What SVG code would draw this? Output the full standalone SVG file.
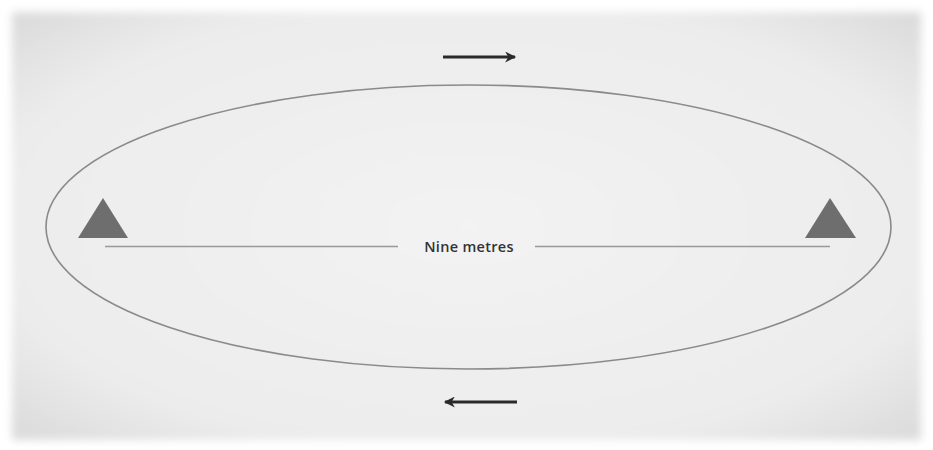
<svg xmlns="http://www.w3.org/2000/svg" width="933" height="450" viewBox="0 0 933 450">
  <defs>
    <radialGradient id="bg" cx="0.5" cy="0.5" r="0.75">
      <stop offset="0" stop-color="#f3f3f3"/>
      <stop offset="0.7" stop-color="#ececec"/>
      <stop offset="1" stop-color="#d6d6d6"/>
    </radialGradient>
    <filter id="soft" x="-5%" y="-5%" width="110%" height="110%">
      <feGaussianBlur stdDeviation="4"/>
    </filter>
    <marker id="ah" viewBox="0 0 10 10" refX="9" refY="5" markerWidth="14" markerHeight="11" markerUnits="userSpaceOnUse" orient="auto">
      <path d="M0,0 L10,5 L0,10 L3,5 Z" fill="#2a2a2a"/>
    </marker>
    <style>
      .ring { fill: none; stroke: #8a8a8a; stroke-width: 1.6; }
      .tri { fill: #6e6e6e; }
      .dist { stroke: #999; stroke-width: 1.6; }
      .arrow { stroke: #2a2a2a; stroke-width: 2.8; fill: none; marker-end: url(#ah); }
      .label { font-family: "Open Sans", "Liberation Sans", sans-serif; font-size: 14.5px; font-weight: 600; fill: #333; letter-spacing: 0.3px; }
    </style>
  </defs>
  <rect x="0" y="0" width="933" height="450" fill="#ffffff"/>
  <rect x="12" y="12" width="909" height="428" fill="url(#bg)" filter="url(#soft)"/>

  <g id="track">
    <ellipse class="ring" cx="468.5" cy="227" rx="422.5" ry="142"/>
  </g>

  <g id="cone-left">
    <polygon class="tri" points="103,198 78,238 128,238"/>
  </g>
  <g id="cone-right">
    <polygon class="tri" points="830,198 805,238 856,238"/>
  </g>

  <g id="connectors">
    <line class="dist" x1="105" y1="246.5" x2="398" y2="246.5"/>
    <line class="dist" x1="535" y1="246.5" x2="830" y2="246.5"/>
    <line class="arrow" x1="443" y1="57" x2="515" y2="57"/>
    <line class="arrow" x1="517" y1="402" x2="445" y2="402"/>
  </g>

  <g id="label">
    <text class="label" x="469" y="252" text-anchor="middle">Nine metres</text>
  </g>
</svg>
